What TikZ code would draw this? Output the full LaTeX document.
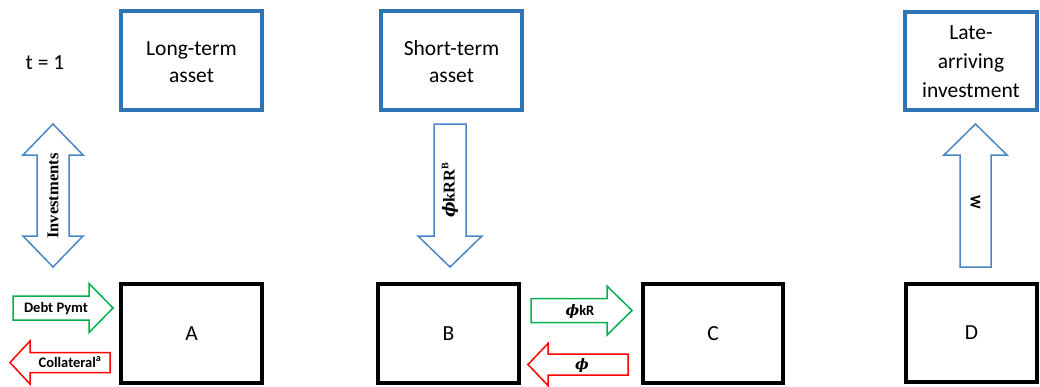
\documentclass[tikz,border=0pt]{standalone}
\usepackage{amsmath}
\usepackage{fontspec}
\setmainfont{Carlito}
\newfontfamily\serifbold{Liberation Serif}
\newfontfamily\phifont{DejaVu Serif}
\definecolor{boxblue}{HTML}{2E75B6}
\definecolor{arrowblue}{HTML}{4A86C5}
\definecolor{flowgreen}{HTML}{00B050}
\definecolor{flowred}{HTML}{FF0000}

% Block arrow along x: shaft from #1 to head base #2, tip at #3, centre line y=#4,
% shaft half width #5, head half width #6, style #7
\newcommand{\harrowblock}[7]{%
  \draw[#7] (#1,#4-#5) -- (#2,#4-#5) -- (#2,#4-#6) -- (#3,#4)
    -- (#2,#4+#6) -- (#2,#4+#5) -- (#1,#4+#5) -- cycle;}
% Block arrow along y: shaft from #1 to head base #2, tip at #3, centre line x=#4
\newcommand{\varrowblock}[7]{%
  \draw[#7] (#4-#5,#1) -- (#4-#5,#2) -- (#4-#6,#2) -- (#4,#3)
    -- (#4+#6,#2) -- (#4+#5,#2) -- (#4+#5,#1) -- cycle;}
% bold italic phi
\newcommand{\bphi}{{\phifont\bfseries\itshape ϕ}}

\begin{document}
\begin{tikzpicture}[x=1pt,y=-1pt,
  assetbox/.style={draw=boxblue,line width=3.2pt,fill=white},
  agentbox/.style={draw=black,line width=3.2pt,fill=white},
  bluearrow/.style={draw=arrowblue,line width=1.5pt,fill=white,line join=miter},
  greenarrow/.style={draw=flowgreen,line width=1.5pt,fill=white,line join=miter},
  redarrow/.style={draw=flowred,line width=1.5pt,fill=white,line join=miter},
  boxtext/.style={align=center,font=\fontsize{21.5}{27}\selectfont},
  flowlabel/.style={font=\fontsize{14.5}{16}\selectfont\bfseries,inner sep=0pt},
  rotlabel/.style={font=\fontsize{16.5}{18}\serifbold\bfseries,inner sep=0pt}]
\useasboundingbox (0,0) rectangle (1040,386);

% time label
\node[boxtext] (time) at (45,63) {t = 1};

% asset boxes (top row)
\draw[assetbox] (121,11) rectangle (262,110);
\node[boxtext] (longterm) at (191.5,62) {Long-term\\asset};
\draw[assetbox] (381,11) rectangle (522,110);
\node[boxtext] (shortterm) at (451.5,62) {Short-term\\asset};
\draw[assetbox] (905,12) rectangle (1037,110);
\node[boxtext,font=\fontsize{21.5}{29}\selectfont] (late) at (971,62) {Late-\\arriving\\investment};

% agent boxes (bottom row)
\draw[agentbox] (121,284) rectangle (262,383);
\node[boxtext] (A) at (191.5,333.5) {A};
\draw[agentbox] (378,284) rectangle (519,383);
\node[boxtext] (B) at (448.5,333.5) {B};
\draw[agentbox] (643,284) rectangle (783,383);
\node[boxtext] (C) at (713,333.5) {C};
\draw[agentbox] (906,284) rectangle (1037,382);
\node[boxtext] (D) at (971.5,333) {D};

% investments: two-headed vertical arrow
\draw[bluearrow] (53,124) -- (83,155) -- (69,155) -- (69,236) -- (83,236) -- (53,267)
  -- (23,236) -- (37,236) -- (37,155) -- (23,155) -- cycle;
\node[rotlabel,rotate=90] (inv) at (53,196) {Investments};

% short-term asset pays out to B
\varrowblock{124}{236}{267}{450}{16}{32}{bluearrow}
\node[rotlabel,rotate=90] (phikrr) at (450,190) {\bphi kRR$^{\textbf{\fontsize{10}{10}\selectfont B}}$};

% D funds the late-arriving investment
\varrowblock{267}{155}{124}{975.5}{15.5}{31.5}{bluearrow}
\node[flowlabel,font=\fontsize{15}{16}\selectfont\bfseries,rotate=-90] (w) at (975.5,202) {W};

% flows at A
\harrowblock{13}{89}{113}{308}{12}{24.5}{greenarrow}
\node[flowlabel] (debt) at (56,309) {Debt Pymt};
\harrowblock{110}{30}{10}{362.5}{10}{21.5}{redarrow}
\node[flowlabel] (coll) at (70,362) {Collateral$^{\text{\normalfont\bfseries\fontsize{10}{10}\selectfont a}}$};

% flows between B and C
\harrowblock{531}{607}{632}{310.5}{12}{24.5}{greenarrow}
\node[flowlabel] (phikr) at (580,311) {\bphi kR};
\harrowblock{628}{548}{528}{364.5}{10.5}{21}{redarrow}
\node[flowlabel] (phi) at (582,365) {\bphi};
\end{tikzpicture}
\end{document}
